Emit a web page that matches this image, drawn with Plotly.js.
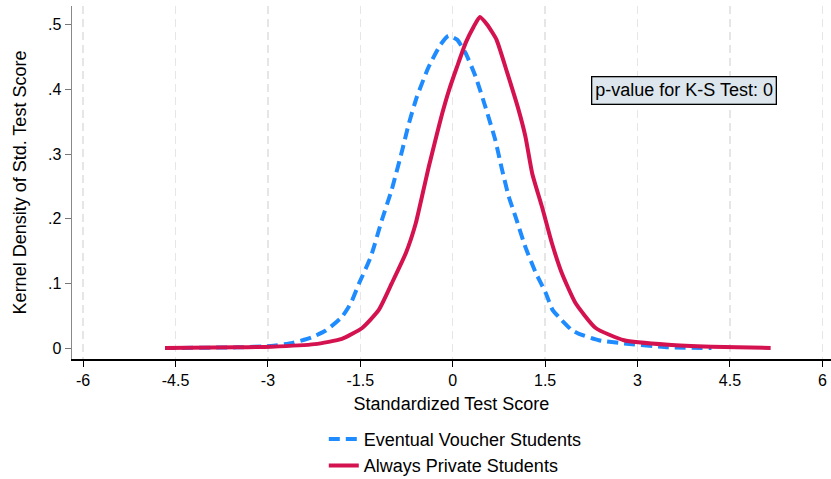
<!DOCTYPE html>
<html>
<head>
<meta charset="utf-8">
<script src="https://cdn.plot.ly/plotly-3.0.1.min.js"></script>
<style>html,body{margin:0;padding:0;background:#fff;}</style>
</head>
<body>
<div id="chart" style="width:831px;height:479px;"></div>
<script>
// Eventual Voucher Students (kernel density)
const voucherX = [-4.67, -3.5, -2.95, -2.6, -2.3, -2.06, -1.8, -1.65, -1.52, -1.33, -1.15, -0.99, -0.82, -0.71, -0.58, -0.39, -0.2, -0.07, 0.07, 0.21, 0.37, 0.53, 0.69, 0.80, 0.91, 1.02, 1.18, 1.35, 1.51, 1.62, 1.72, 1.93, 2.05, 2.37, 2.78, 3.5, 4.2];
const voucherY = [0.000, 0.001, 0.003, 0.008, 0.016, 0.027, 0.048, 0.070, 0.100, 0.141, 0.198, 0.245, 0.306, 0.348, 0.389, 0.435, 0.469, 0.483, 0.477, 0.456, 0.420, 0.373, 0.322, 0.276, 0.234, 0.203, 0.156, 0.116, 0.085, 0.059, 0.048, 0.028, 0.022, 0.012, 0.007, 0.001, 0.000];

// Always Private Students (kernel density)
const privateX = [-4.67, -3.5, -2.95, -2.24, -1.80, -1.47, -1.2, -0.99, -0.76, -0.6, -0.5, -0.39, -0.28, -0.17, -0.06, 0.07, 0.21, 0.34, 0.44, 0.56, 0.71, 0.88, 1.07, 1.18, 1.29, 1.45, 1.61, 1.77, 1.99, 2.32, 2.78, 3.5, 4.2, 5.16];
const privateY = [0.000, 0.001, 0.002, 0.006, 0.014, 0.031, 0.059, 0.100, 0.147, 0.193, 0.234, 0.280, 0.322, 0.363, 0.399, 0.435, 0.472, 0.497, 0.512, 0.500, 0.477, 0.427, 0.368, 0.327, 0.270, 0.218, 0.162, 0.116, 0.070, 0.031, 0.012, 0.005, 0.002, 0.000];

const seriesNames = ["Eventual Voucher Students", "Always Private Students"];
const xTickVals = [-6, -4.5, -3, -1.5, 0, 1.5, 3, 4.5, 6];
const xTickText = ["-6", "-4.5", "-3", "-1.5", "0", "1.5", "3", "4.5", "6"];
const yTickVals = [0, 0.1, 0.2, 0.3, 0.4, 0.5];
const yTickText = ["0", ".1", ".2", ".3", ".4", ".5"];
const annotationText = "p-value for K-S Test: 0";

const font = "Liberation Sans, Arial, Helvetica, sans-serif";

const traces = [
  {
    x: voucherX, y: voucherY, type: "scatter", mode: "lines",
    name: seriesNames[0],
    line: {color: "#1E8BFF", width: 4, dash: "11px,6px", shape: "spline", smoothing: 0.5}
  },
  {
    x: privateX, y: privateY, type: "scatter", mode: "lines",
    name: seriesNames[1],
    line: {color: "#D3124F", width: 4, shape: "spline", smoothing: 0.5}
  }
];

const layout = {
  width: 831, height: 479,
  margin: {l: 72, r: 0, t: 6, b: 120, autoexpand: false},
  paper_bgcolor: "#ffffff",
  plot_bgcolor: "#ffffff",
  font: {family: font, color: "#000", size: 16},
  showlegend: true,
  legend: {
    orientation: "v", x: 0.505, xanchor: "center", y: -0.175, yanchor: "top",
    font: {family: font, size: 18, color: "#000"},
    bgcolor: "rgba(0,0,0,0)", tracegroupgap: 0
  },
  xaxis: {
    range: [-6.18, 6.14],
    tickmode: "array", tickvals: xTickVals, ticktext: xTickText,
    ticks: "outside", ticklen: 6, tickcolor: "#000", tickwidth: 1,
    showline: true, linecolor: "#000", linewidth: 1.5,
    showgrid: true, gridcolor: "#e6e6e6", gridwidth: 1.5, griddash: "8px,5px",
    zeroline: false,
    tickfont: {family: font, size: 16, color: "#000"},
    title: {text: "Standardized Test Score", font: {family: font, size: 18, color: "#000"}, standoff: 9}
  },
  yaxis: {
    range: [-0.017, 0.529],
    tickmode: "array", tickvals: yTickVals, ticktext: yTickText,
    ticks: "outside", ticklen: 6, tickcolor: "#777", tickwidth: 1,
    showline: true, linecolor: "#888", linewidth: 1.5,
    showgrid: false, zeroline: false,
    tickfont: {family: font, size: 16, color: "#000"},
    title: {text: "Kernel Density of Std. Test Score", font: {family: font, size: 18, color: "#000"}, standoff: 16}
  },
  annotations: [{
    x: 3.75, y: 0.398, xref: "x", yref: "y",
    text: annotationText, showarrow: false,
    font: {family: font, size: 18, color: "#000"},
    bgcolor: "#dce6ec", bordercolor: "#000", borderwidth: 1.3, borderpad: 3
  }]
};

Plotly.newPlot("chart", traces, layout, {displayModeBar: false, staticPlot: true});
</script>
</body>
</html>
